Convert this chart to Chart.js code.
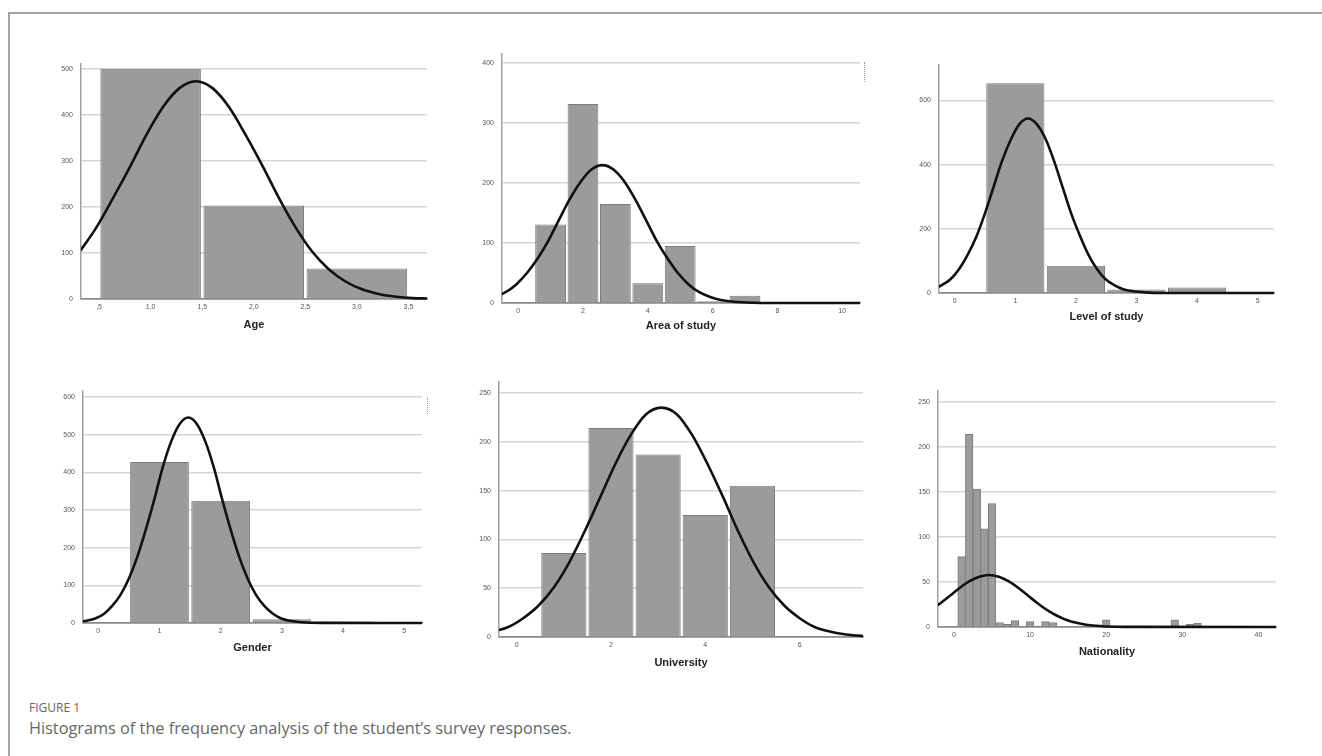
<!DOCTYPE html>
<html lang="en">
<head>
  <meta charset="UTF-8" />
  <title>Histograms of the frequency analysis</title>
  <script src="https://cdn.jsdelivr.net/npm/chart.js"></script>
  <style>
    body {
      margin: 0;
      background: #fff;
      font-family: "Open Sans", Arial, sans-serif;
    }

    #figura {
      position: relative;
      width: 1322px;
      height: 756px;
      overflow: hidden;
    }

    #moldura {
      position: absolute;
      left: 8px;
      top: 12px;
      right: -4px;
      bottom: -4px;
      border-top: 2px solid #a3a3a3;
      border-left: 2px solid #a3a3a3;
    }

    canvas { position: absolute; }

    #g-idade  { left: 31px;  top: 52px; }
    #g-area   { left: 452px; top: 42px; }
    #g-nivel  { left: 889px; top: 53px; }
    #g-genero { left: 33px;  top: 379px; }
    #g-univ   { left: 449px; top: 370px; }
    #g-nac    { left: 888px; top: 379px; }

    .pontos {
      position: absolute;
      width: 0;
      border-left: 1px dotted #9a9a9a;
    }

    #rotulo {
      position: absolute;
      left: 29px;
      top: 699px;
      font-size: 12px;
      color: #666;
    }

    #legenda {
      position: absolute;
      left: 29px;
      top: 717px;
      font-size: 16.3px;
      color: #666;
    }
  </style>
</head>
<body>
  <div id="figura">
    <div id="moldura"></div>

    <canvas id="g-idade" width="406" height="297"></canvas>
    <canvas id="g-area" width="418" height="311"></canvas>
    <canvas id="g-nivel" width="395" height="290"></canvas>
    <canvas id="g-genero" width="399" height="294"></canvas>
    <canvas id="g-univ" width="424" height="317"></canvas>
    <canvas id="g-nac" width="398" height="298"></canvas>

    <div class="pontos" style="left:864px; top:62px; height:20px;"></div>
    <div class="pontos" style="left:427px; top:397px; height:17px;"></div>

    <div id="rotulo">FIGURE 1</div>
    <div id="legenda">Histograms of the frequency analysis of the student’s survey responses.</div>
  </div>

  <script>
    // Age
    const ageBins = [1, 2, 3];
    const ageCounts = [500, 203, 66];
    const ageCurveX = [0.31, 0.47, 0.63, 0.80, 0.96, 1.12, 1.28, 1.44, 1.60, 1.76, 1.92, 2.09, 2.25, 2.41, 2.57, 2.73, 2.89, 3.05, 3.21, 3.38, 3.54, 3.70];
    const ageCurveY = [102, 154, 217, 287, 357, 417, 458, 473, 458, 417, 357, 287, 217, 154, 102, 64, 38, 21, 11, 5, 2, 1];
    const ageXTicks = [0.5, 1, 1.5, 2, 2.5, 3, 3.5];
    const ageXLabels = [',5', '1,0', '1,5', '2,0', '2,5', '3,0', '3,5'];
    const ageYTicks = [0, 100, 200, 300, 400, 500];

    // Area of study
    const areaBins = [1, 2, 3, 4, 5, 6, 7];
    const areaCounts = [131, 332, 165, 33, 95, 3, 12];
    const areaCurveX = [-0.73, -0.39, -0.06, 0.27, 0.61, 0.94, 1.27, 1.60, 1.94, 2.27, 2.60, 2.93, 3.27, 3.60, 3.93, 4.26, 4.60, 4.93, 5.26, 5.59, 5.93, 6.26, 6.59, 7.26, 7.92, 10.6];
    const areaCurveY = [10, 18, 31, 50, 75, 105, 140, 174, 203, 223, 230, 223, 203, 174, 140, 105, 75, 50, 31, 18, 10, 5, 2.6, 0.5, 0.1, 0];
    const areaXTicks = [0, 2, 4, 6, 8, 10];
    const areaXLabels = ['0', '2', '4', '6', '8', '10'];
    const areaYTicks = [0, 100, 200, 300, 400];

    // Level of study
    const levelBins = [1, 2, 3, 4];
    const levelCounts = [654, 85, 11, 17];
    const levelCurveX = [-0.36, -0.22, -0.07, 0.07, 0.21, 0.36, 0.50, 0.64, 0.78, 0.93, 1.07, 1.21, 1.35, 1.50, 1.64, 1.78, 1.92, 2.07, 2.21, 2.35, 2.49, 2.64, 2.78, 2.92, 3.21, 3.49, 5.3];
    const levelCurveY = [12, 24, 43, 74, 118, 177, 249, 330, 411, 480, 527, 544, 527, 480, 411, 330, 249, 177, 118, 74, 43, 24, 12, 6, 1.2, 0.2, 0];
    const levelXTicks = [0, 1, 2, 3, 4, 5];
    const levelXLabels = ['0', '1', '2', '3', '4', '5'];
    const levelYTicks = [0, 200, 400, 600];

    // Gender
    const genderBins = [1, 2, 3, 4];
    const genderCounts = [428, 325, 10, 4];
    const genderCurveX = [-0.33, -0.19, -0.05, 0.09, 0.22, 0.36, 0.50, 0.64, 0.78, 0.92, 1.05, 1.19, 1.33, 1.47, 1.61, 1.75, 1.89, 2.02, 2.16, 2.30, 2.44, 2.58, 2.72, 2.86, 2.99, 3.13, 3.41, 3.69, 5.3];
    const genderCurveY = [2.8, 6.1, 12, 24, 44, 74, 118, 177, 250, 331, 412, 482, 529, 546, 529, 482, 412, 331, 250, 177, 118, 74, 44, 24, 12, 6.1, 1.2, 0.2, 0];
    const genderXTicks = [0, 1, 2, 3, 4, 5];
    const genderXLabels = ['0', '1', '2', '3', '4', '5'];
    const genderYTicks = [0, 100, 200, 300, 400, 500, 600];

    // University
    const univBins = [1, 2, 3, 4, 5, 6];
    const univCounts = [86, 214, 187, 125, 155, 1];
    const univCurveX = [-0.52, -0.19, 0.13, 0.46, 0.79, 1.11, 1.44, 1.77, 2.09, 2.42, 2.74, 3.07, 3.40, 3.72, 4.05, 4.38, 4.70, 5.03, 5.35, 5.68, 6.01, 6.33, 6.66, 6.99, 7.31, 7.64];
    const univCurveY = [5.4, 10, 19, 32, 51, 76, 108, 143, 177, 207, 228, 235, 228, 207, 177, 143, 108, 76, 51, 32, 19, 10, 5.4, 2.6, 1.2, 0.5];
    const univXTicks = [0, 2, 4, 6];
    const univXLabels = ['0', '2', '4', '6'];
    const univYTicks = [0, 50, 100, 150, 200, 250];

    // Nationality
    const natBins = [1, 2, 3, 4, 5, 6, 7, 8, 9, 10, 11, 12, 13, 14, 15, 16, 17, 18, 19, 20, 21, 22, 23, 24, 25, 26, 27, 28, 29, 30, 31, 32];
    const natCounts = [78, 214, 153, 109, 137, 5, 3, 7, 0, 6, 1, 6, 5, 0, 0, 0, 0, 0, 0, 8, 1, 0, 1, 0, 1, 0, 0, 0, 8, 0, 3, 4];
    const natCurveX = [-3.05, -1.78, -0.5, 0.78, 2.05, 3.33, 4.6, 5.88, 7.15, 8.43, 9.7, 10.98, 12.25, 13.53, 14.8, 16.08, 17.35, 18.63, 19.9, 22.45, 42.5];
    const natCurveY = [18.7, 26.4, 34.9, 43.5, 50.8, 55.8, 57.6, 55.8, 50.8, 43.5, 34.9, 26.4, 18.7, 12.5, 7.8, 4.6, 2.5, 1.3, 0.6, 0.1, 0];
    const natXTicks = [0, 10, 20, 30, 40];
    const natXLabels = ['0', '10', '20', '30', '40'];
    const natYTicks = [0, 50, 100, 150, 200, 250];

    const fonte = '"Liberation Sans", Arial, sans-serif';

    function histograma(id, titulo, bins, counts, curveX, curveY, xTicks, xLabels, yTicks, opc) {
      const ctx = document.getElementById(id).getContext('2d');
      return new Chart(ctx, {
        type: 'bar',
        data: {
          datasets: [
            {
              type: 'line',
              data: curveX.map((x, i) => ({ x: x, y: curveY[i] })),
              borderColor: '#111',
              borderWidth: 2.6,
              pointRadius: 0,
              cubicInterpolationMode: 'monotone',
              clip: { left: 0, right: 0, top: 4, bottom: 4 },
              order: 0
            },
            {
              type: 'bar',
              data: bins.map((b, i) => ({ x: b, y: counts[i] })),
              backgroundColor: '#9b9b9b',
              borderColor: '#7c7c7c',
              borderWidth: 1,
              barPercentage: opc.barPct,
              categoryPercentage: 1,
              order: 1
            }
          ]
        },
        options: {
          responsive: false,
          animation: false,
          layout: { padding: 10 },
          plugins: {
            legend: { display: false },
            tooltip: { enabled: false }
          },
          scales: {
            x: {
              type: 'linear',
              min: opc.xMin,
              max: opc.xMax,
              offset: false,
              grid: { display: false, drawTicks: false, offset: false },
              border: { display: true, color: '#8a8a8a', width: 1.5 },
              ticks: {
                autoSkip: false,
                maxRotation: 0,
                padding: 4,
                color: '#555',
                font: { size: 7, family: fonte },
                callback: (v, i) => xLabels[i]
              },
              title: {
                display: true,
                text: titulo,
                color: '#222',
                font: { size: 11, weight: 'bold', family: fonte },
                padding: { top: 0, bottom: opc.titlePad }
              },
              afterBuildTicks: s => { s.ticks = xTicks.map(v => ({ value: v })); },
              afterFit: s => { s.height = 40; }
            },
            y: {
              min: 0,
              max: opc.yMax,
              grid: {
                drawTicks: false,
                lineWidth: 1.5,
                color: c => (c.tick && c.tick.value === 0) ? '#8a8a8a' : '#d6d6d6'
              },
              border: { display: true, color: '#a0a0a0', width: 1.5 },
              ticks: {
                padding: 8,
                color: '#555',
                font: { size: 7, family: fonte }
              },
              afterBuildTicks: s => { s.ticks = yTicks.map(v => ({ value: v })); },
              afterFit: s => { s.width = 40; }
            }
          }
        }
      });
    }

    histograma('g-idade', 'Age', ageBins, ageCounts, ageCurveX, ageCurveY, ageXTicks, ageXLabels, ageYTicks,
      { xMin: 0.325, xMax: 3.68, yMax: 510, barPct: 1.95, titlePad: 7.4 });
    histograma('g-area', 'Area of study', areaBins, areaCounts, areaCurveX, areaCurveY, areaXTicks, areaXLabels, areaYTicks,
      { xMin: -0.5, xMax: 10.55, yMax: 415, barPct: 0.95, titlePad: 10.4 });
    histograma('g-nivel', 'Level of study', levelBins, levelCounts, levelCurveX, levelCurveY, levelXTicks, levelXLabels, levelYTicks,
      { xMin: -0.26, xMax: 5.27, yMax: 710, barPct: 0.96, titlePad: 9.4 });
    histograma('g-genero', 'Gender', genderBins, genderCounts, genderCurveX, genderCurveY, genderXTicks, genderXLabels, genderYTicks,
      { xMin: -0.25, xMax: 5.29, yMax: 616, barPct: 0.96, titlePad: 8.4 });
    histograma('g-univ', 'University', univBins, univCounts, univCurveX, univCurveY, univXTicks, univXLabels, univYTicks,
      { xMin: -0.375, xMax: 7.345, yMax: 261, barPct: 0.957, titlePad: 7.4 });
    histograma('g-nac', 'Nationality', natBins, natCounts, natCurveX, natCurveY, natXTicks, natXLabels, natYTicks,
      { xMin: -2.1, xMax: 42.3, yMax: 261.5, barPct: 1, titlePad: 8.4 });
  </script>
</body>
</html>
